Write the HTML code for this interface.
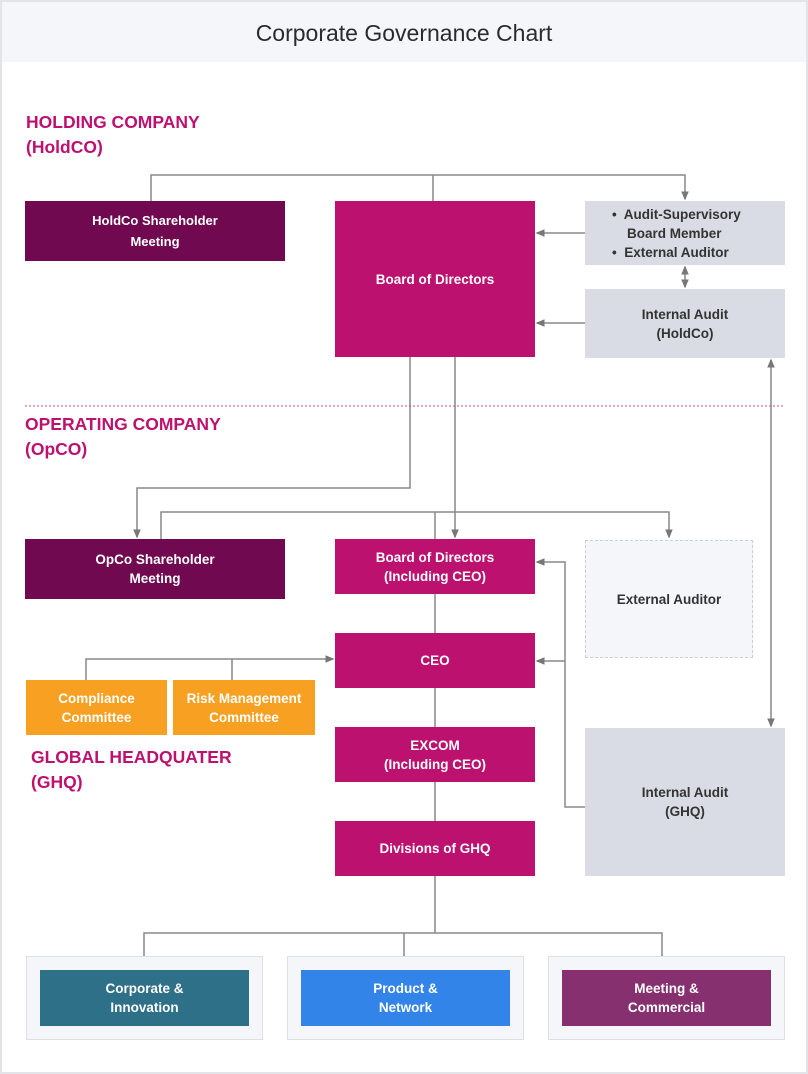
<!DOCTYPE html>
<html><head><meta charset="utf-8"><style>
*{margin:0;padding:0;box-sizing:border-box}
body{width:808px;height:1074px;background:#fff;position:relative;font-family:"Liberation Sans",sans-serif;overflow:hidden}
.frame{position:absolute;left:0;top:0;width:808px;height:1074px;border:2px solid #e2e4ea}
.hdr{position:absolute;left:2px;top:2px;width:804px;height:60px;background:#f5f6fa;text-align:center;line-height:62px;font-size:23px;color:#2b2b2b}
.b{position:absolute;display:flex;align-items:center;justify-content:center;text-align:center;color:#fff;font-size:13.5px;font-weight:bold;line-height:19px}
.g{background:#d9dce4;color:#333}
.lbl{position:absolute;color:#bd1170;font-size:17.5px;line-height:25px;font-weight:bold}
.out{position:absolute;background:#f5f6fa;border:1px solid #dde0e7}
svg{position:absolute;left:0;top:0}
</style></head><body>
<div class="frame"></div>
<div class="hdr">Corporate Governance Chart</div>
<div class="lbl" style="left:26px;top:110px">HOLDING COMPANY<br>(HoldCO)</div>
<div class="lbl" style="left:25px;top:412px">OPERATING COMPANY<br>(OpCO)</div>
<div class="lbl" style="left:31px;top:745px">GLOBAL HEADQUATER<br>(GHQ)</div>

<svg width="808" height="1074">
<defs><marker id="a" markerWidth="6" markerHeight="6" refX="5" refY="3" orient="auto"><path d="M0,0.5 L6,3 L0,5.5z" fill="#777"/></marker></defs>
<g stroke="#888" stroke-width="1.5" fill="none">
<path d="M151,201V175H685V199" marker-end="url(#a)"/>
<path d="M433,175V201"/>
<path d="M585,233H537" marker-end="url(#a)"/>
<path d="M585,323H537" marker-end="url(#a)"/>
<path d="M685,277V267" marker-end="url(#a)"/>
<path d="M685,277V287" marker-end="url(#a)"/>
<path d="M771,540V360" marker-end="url(#a)"/>
<path d="M771,540V726" marker-end="url(#a)"/>
<path d="M410,357V488H137V537" marker-end="url(#a)"/>
<path d="M455,357V537" marker-end="url(#a)"/>
<path d="M161,539V512H669V537" marker-end="url(#a)"/>
<path d="M435,512V539"/>
<path d="M435,594V633M435,688V727M435,782V821M435,876V933"/>
<path d="M86,680V659H333" marker-end="url(#a)"/>
<path d="M232,659V680"/>
<path d="M585,807H565V562H537" marker-end="url(#a)"/>
<path d="M565,661H537" marker-end="url(#a)"/>
<path d="M144,956V933H662V956M404,933V956"/>
</g>
<line x1="25" y1="406" x2="785" y2="406" stroke="#c94a8c" stroke-width="1" stroke-dasharray="2,2"/>
</svg>

<div class="b" style="left:25px;top:201px;width:260px;height:60px;background:#70094f;font-size:13px;line-height:21px">HoldCo Shareholder<br>Meeting</div>
<div class="b" style="left:335px;top:201px;width:200px;height:156px;background:#bd1170">Board of Directors</div>
<div class="b g" style="left:585px;top:201px;width:200px;height:64px;justify-content:flex-start;padding-left:27px;text-align:left">
<div>•&nbsp; Audit-Supervisory<br>&nbsp;&nbsp;&nbsp; Board Member<br>•&nbsp; External Auditor</div></div>
<div class="b g" style="left:585px;top:289px;width:200px;height:69px">Internal Audit<br>(HoldCo)</div>

<div class="b" style="left:25px;top:539px;width:260px;height:60px;background:#70094f">OpCo Shareholder<br>Meeting</div>
<div class="b" style="left:335px;top:539px;width:200px;height:55px;background:#bd1170">Board of Directors<br>(Including CEO)</div>
<div class="b" style="left:585px;top:540px;width:168px;height:118px;background:#f5f6fa;border:1px dashed #ccd;color:#333">External Auditor</div>
<div class="b" style="left:335px;top:633px;width:200px;height:55px;background:#bd1170">CEO</div>
<div class="b" style="left:26px;top:680px;width:141px;height:55px;background:#f7a021">Compliance<br>Committee</div>
<div class="b" style="left:173px;top:680px;width:142px;height:55px;background:#f7a021">Risk Management<br>Committee</div>
<div class="b" style="left:335px;top:727px;width:200px;height:55px;background:#bd1170">EXCOM<br>(Including CEO)</div>
<div class="b" style="left:335px;top:821px;width:200px;height:55px;background:#bd1170">Divisions of GHQ</div>
<div class="b g" style="left:585px;top:728px;width:200px;height:148px">Internal Audit<br>(GHQ)</div>

<div class="out" style="left:26px;top:956px;width:237px;height:84px"></div>
<div class="out" style="left:287px;top:956px;width:237px;height:84px"></div>
<div class="out" style="left:548px;top:956px;width:237px;height:84px"></div>
<div class="b" style="left:40px;top:970px;width:209px;height:56px;background:#2e7088">Corporate &amp;<br>Innovation</div>
<div class="b" style="left:301px;top:970px;width:209px;height:56px;background:#3384e8">Product &amp;<br>Network</div>
<div class="b" style="left:562px;top:970px;width:209px;height:56px;background:#86306f">Meeting &amp;<br>Commercial</div>
</body></html>
